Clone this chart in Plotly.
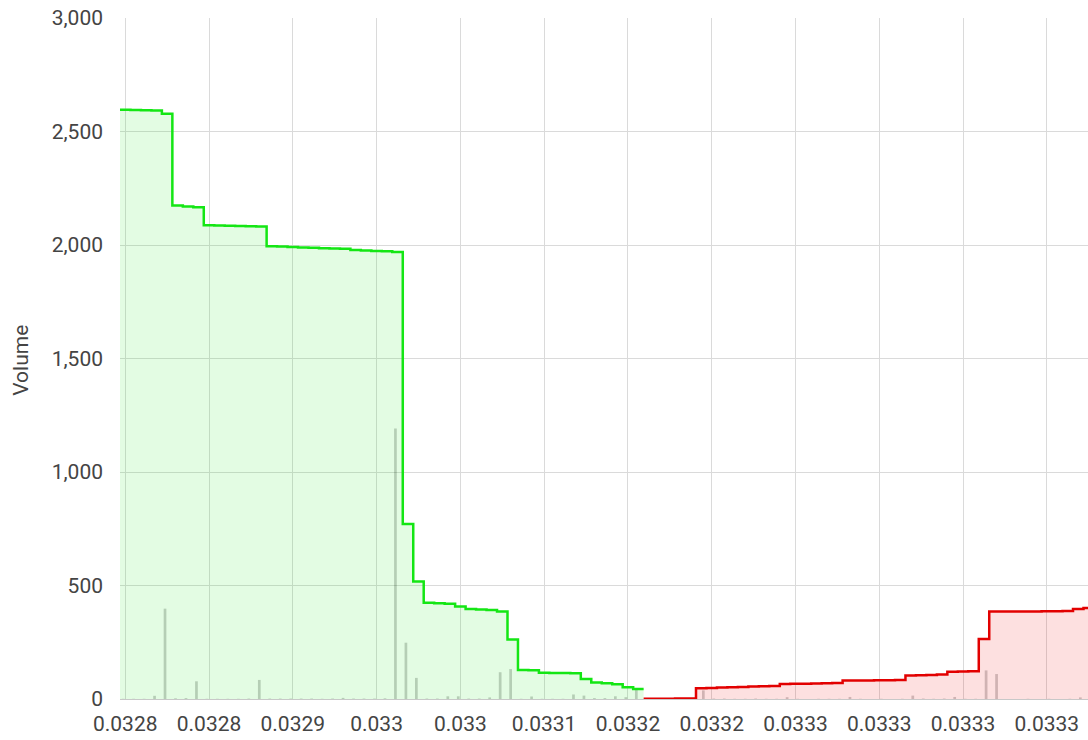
import plotly.graph_objects as go

# ---- data (category index = price level order) ----
bid_index = list(range(0, 50))
bid_total = [2596, 2595, 2594, 2593, 2578, 2174, 2170, 2166, 2087, 2086,
             2085, 2084, 2083, 2081, 1995, 1993, 1991, 1989, 1988, 1986,
             1985, 1983, 1978, 1976, 1974, 1972, 1969, 771, 518, 424,
             422, 420, 408, 396, 394, 392, 385, 262, 128, 127,
             116, 115, 114, 113, 88, 73, 69, 65, 52, 44]
bid_volume = [1, 1, 1, 14, 398, 3, 4, 78, 1, 1,
              1, 1, 2, 84, 2, 2, 2, 2, 2, 1,
              2, 5, 2, 2, 2, 3, 1192, 248, 93, 2,
              2, 12, 12, 2, 2, 7, 118, 132, 1, 11,
              1, 1, 1, 20, 15, 4, 4, 12, 8, 43]

ask_index = list(range(50, 93))
ask_total = [1, 1, 1, 2, 2, 47, 49, 51, 52, 53,
             55, 56, 57, 66, 67, 67, 68, 69, 70, 81,
             82, 82, 83, 83, 84, 103, 105, 106, 108, 120,
             121, 122, 264, 385, 385, 385, 386, 386, 387, 387,
             388, 396, 401]
ask_volume = [1, 0, 0, 1, 0, 38, 2, 2, 1, 1,
              2, 1, 1, 8, 1, 0, 1, 1, 1, 9,
              1, 0, 1, 0, 1, 15, 2, 1, 2, 9,
              1, 1, 126, 110, 0, 0, 1, 0, 1, 0,
              1, 7, 4]

tick_index = [0, 8, 16, 24, 32, 40, 48, 56, 64, 72, 80, 88]
tick_labels = ["0.0328", "0.0328", "0.0329", "0.033", "0.033", "0.0331",
               "0.0332", "0.0332", "0.0333", "0.0333", "0.0333", "0.0333"]

# ---- figure ----
def step_xy(idx, tot):
    xs = [i - 0.5 for i in idx] + [idx[-1] + 0.5]
    ys = list(tot) + [tot[-1]]
    return xs, ys

bx, by = step_xy(bid_index, bid_total)
ax, ay = step_xy(ask_index, ask_total)

fig = go.Figure()
fig.add_trace(go.Scatter(x=bx, y=by, mode="lines", line_shape="hv",
                         line=dict(color="#14e614", width=2.5),
                         fill="tozeroy", fillcolor="rgba(0,230,0,0.11)"))
fig.add_trace(go.Scatter(x=ax, y=ay, mode="lines", line_shape="hv",
                         line=dict(color="#e20000", width=2.5),
                         fill="tozeroy", fillcolor="rgba(240,0,0,0.12)"))
fig.add_trace(go.Bar(x=bid_index, y=bid_volume, width=0.26, offset=-0.33,
                     marker=dict(color="rgba(0,0,0,0.2)", line=dict(width=0))))
fig.add_trace(go.Bar(x=ask_index, y=ask_volume, width=0.26, offset=0.07,
                     marker=dict(color="rgba(0,0,0,0.2)", line=dict(width=0))))

fig.update_layout(
    width=1088, height=740,
    margin=dict(l=120, r=0, t=18, b=41),
    plot_bgcolor="white", paper_bgcolor="white",
    showlegend=False, barmode="overlay",
    font=dict(family="Roboto", size=21, color="#444"),
)
fig.update_xaxes(range=[-0.5, 91.93], tickmode="array", tickvals=tick_index,
                 ticktext=tick_labels, showgrid=True, gridcolor="#dadada",
                 gridwidth=1, zeroline=False, ticks="", showline=True,
                 linecolor="#c8c8c8", linewidth=1, ticklabelstandoff=6)
fig.update_yaxes(range=[0, 3000], dtick=500, tickformat=",",
                 showgrid=True, gridcolor="#dadada", gridwidth=1,
                 zeroline=False, ticks="", showline=False,
                 ticklabelstandoff=16)
fig.add_annotation(text="Volume", xref="paper", yref="paper",
                   x=-0.1023, y=0.498, xanchor="center", yanchor="middle",
                   textangle=-90, showarrow=False,
                   font=dict(family="Roboto", size=21, color="#444"))

fig.write_html("out.html",
               config={"displayModeBar": False},
               post_script="document.body.style.margin='0px';"
                           "document.body.style.overflow='hidden';")
